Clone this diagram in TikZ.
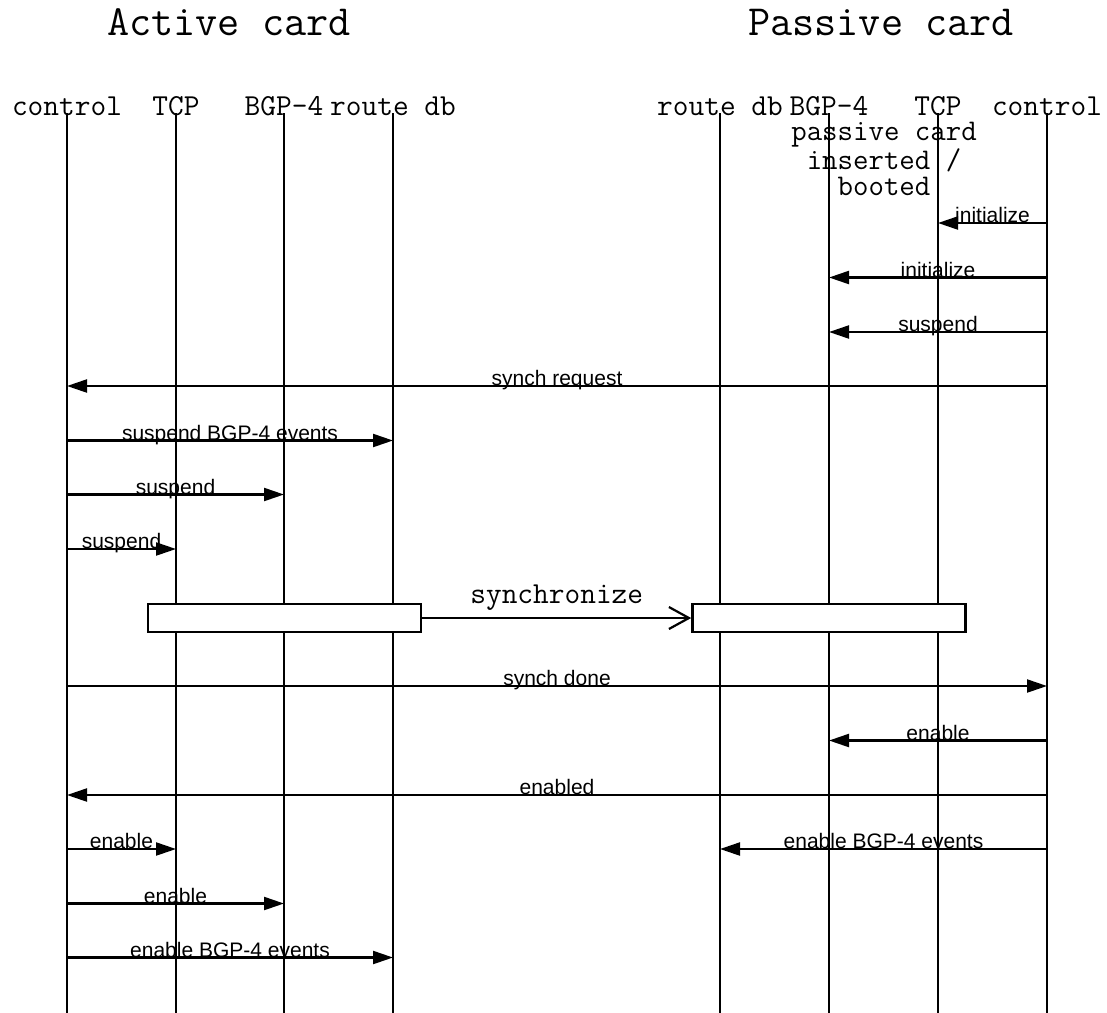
\documentclass[tikz,border=0pt]{standalone}
\usepackage{fontspec}
\setmainfont{Liberation Sans}
\usetikzlibrary{arrows.meta}
\tikzset{
  lifeline/.style={line width=2.2pt},
  msg/.style={line width=2.2pt,-{Triangle[length=20pt,width=13pt]}},
  lab/.style={anchor=base,inner sep=0pt,yshift=0.5pt,font=\fontsize{21}{24}\selectfont},
  hdr/.style={anchor=base,inner sep=0pt,font=\ttfamily\fontsize{30.5}{26}\selectfont},
  note/.style={anchor=base,inner sep=0pt,align=center,font=\ttfamily\fontsize{30}{26}\selectfont},
  ttl/.style={anchor=base,inner sep=0pt,font=\ttfamily\fontsize{43}{46}\selectfont},
  syncbox/.style={draw,fill=white,line width=2.6pt,inner sep=0pt,minimum width=273pt,minimum height=28pt},
  syncarrow/.style={line width=2.2pt,-{Straight Barb[length=20pt,width=22pt,line width=2.2pt]}},
}
\newcommand\mymsg[5]{%
  \coordinate (#1a) at (#2,#4);
  \coordinate (#1b) at (#3,#4);
  \draw[msg] (#1a) -- node[lab]{#5} (#1b);}
\begin{document}
\begin{tikzpicture}[x=1pt,y=-1pt]
\useasboundingbox (0,0) rectangle (1107,1012);
% titles
\node[ttl] (tA) at (229,35) {Active card};
\node[ttl] (tP) at (881,35) {Passive card};
% headers and lifelines
\foreach \n/\x/\t in {a1/67/control,a2/176/TCP,a3/284/BGP-4,a4/393/route db,
                      p4/720/route db,p3/829/BGP-4,p2/938/TCP,p1/1047/control}{
  \node[hdr] (h\n) at (\x,115) {\t};
  \coordinate (top\n) at (\x,113);
  \coordinate (bot\n) at (\x,1014);
  \draw[lifeline] (top\n) -- (bot\n);
}
% passive card note (base = last line)
\node[note] (note) at (884,195) {passive card\\inserted /\\booted};
% messages
\mymsg{m1}{1047}{938}{223}{initialize}
\mymsg{m2}{1047}{829}{277.5}{initialize}
\mymsg{m3}{1047}{829}{332}{suspend}
\mymsg{m4}{1047}{67}{386}{synch request}
\mymsg{m5}{67}{393}{440.5}{suspend BGP-4 events}
\mymsg{m6}{67}{284}{494.5}{suspend}
\mymsg{m7}{67}{176}{549}{suspend}
% synchronize
\node[syncbox] (boxL) at (284.5,618) {};
\node[syncbox] (boxR) at (829,618) {};
\draw[syncarrow] (boxL.east) -- node[hdr,yshift=15pt]{synchronize} (boxR.west);
\mymsg{m8}{67}{1047}{686}{synch done}
\mymsg{m9}{1047}{829}{740.5}{enable}
\mymsg{m10}{1047}{67}{795}{enabled}
\mymsg{m11}{1047}{720}{849}{enable BGP-4 events}
\mymsg{m12}{67}{176}{849}{enable}
\mymsg{m13}{67}{284}{903.5}{enable}
\mymsg{m14}{67}{393}{957.5}{enable BGP-4 events}
\end{tikzpicture}
\end{document}
